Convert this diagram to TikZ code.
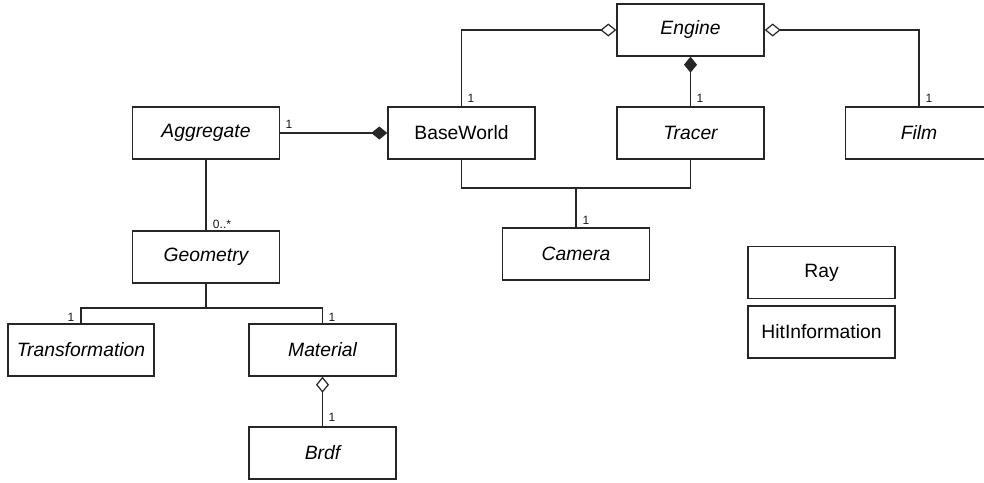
\documentclass[tikz,border=0pt]{standalone}
\usepackage{fontspec}
\setmainfont{Liberation Sans}
\usetikzlibrary{arrows.meta}
\begin{document}
\begin{tikzpicture}[x=1pt,y=-1pt,
  cls/.style={draw=black!85, line width=1.4pt, minimum width=147pt, minimum height=52pt, inner sep=0pt, font=\fontsize{19.3}{21}\selectfont, text=black},
  abs/.style={cls, font=\fontsize{19.3}{21}\selectfont\itshape},
  conn/.style={draw=black!85, line width=1.4pt},
  odia/.style={conn, {Diamond[open, length=16pt, width=13pt, line width=1.2pt]}-},
  fdia/.style={conn, {Diamond[length=16pt, width=13pt]}-},
  mult/.style={font=\fontsize{12}{13}\selectfont, inner sep=0pt, text=black!90}
]
\useasboundingbox (0,0) rectangle (984,482);
\clip (0,0) rectangle (984,482);
\fill[white] (0,0) rectangle (984,482);

\node[abs] (engine) at (690.5,30) {Engine};
\node[abs] (aggregate) at (206,133) {Aggregate};
\node[cls] (baseworld) at (461.5,133) {BaseWorld};
\node[abs] (tracer) at (690.5,133) {Tracer};
\node[abs] (film) at (919,133) {Film};
\node[abs] (geometry) at (206,257) {Geometry};
\node[abs] (camera) at (576,254) {Camera};
\node[cls] (ray) at (821.5,272.5) {Ray};
\node[cls] (hitinfo) at (821.5,332) {HitInformation};
\node[abs, minimum width=146pt] (transformation) at (81,350) {Transformation};
\node[abs] (material) at (322.5,350) {Material};
\node[abs] (brdf) at (322.5,453) {Brdf};

\coordinate (cj) at (576,188);
\coordinate (gj) at (206,308);

\draw[odia] (engine.west) -| (baseworld.north);
\draw[odia] (engine.east) -| (film.north);
\draw[fdia] (engine.south) -- (tracer.north);
\draw[fdia] (baseworld.west) -- (aggregate.east);
\draw[conn] (baseworld.south) |- (cj) -| (tracer.south);
\draw[conn] (cj) -- (camera.north);
\draw[conn] (aggregate.south) -- (geometry.north);
\draw[conn] (geometry.south) -- (gj);
\draw[conn] (transformation.north) |- (gj) -| (material.north);
\draw[odia] (material.south) -- (brdf.north);

\node[mult] (m1) at (471,98) {1};
\node[mult] (m2) at (700,98) {1};
\node[mult] (m3) at (929,98) {1};
\node[mult] (m4) at (289,124) {1};
\node[mult] (m5) at (586,220) {1};
\node[mult] (m6) at (222,224) {0..*};
\node[mult] (m7) at (71,317) {1};
\node[mult] (m8) at (332,317) {1};
\node[mult] (m9) at (332,417) {1};
\end{tikzpicture}
\end{document}
